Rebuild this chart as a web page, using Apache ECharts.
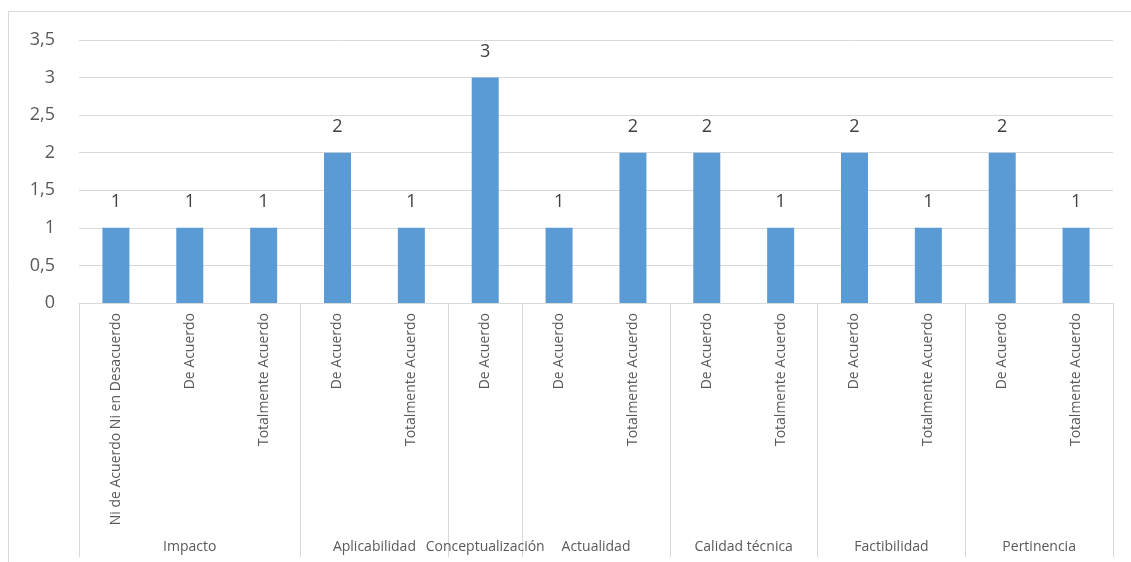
<!DOCTYPE html>
<html>
<head>
<meta charset="utf-8">
<script src="https://cdn.jsdelivr.net/npm/echarts@6/dist/echarts.min.js"></script>
<style>
html,body{margin:0;padding:0;background:#fff;}
#chart{width:1131px;height:562px;}
</style>
</head>
<body>
<div id="chart"></div>
<script>
var categories = ["Ni de Acuerdo Ni en Desacuerdo","De Acuerdo","Totalmente Acuerdo","De Acuerdo","Totalmente Acuerdo","De Acuerdo","De Acuerdo","Totalmente Acuerdo","De Acuerdo","Totalmente Acuerdo","De Acuerdo","Totalmente Acuerdo","De Acuerdo","Totalmente Acuerdo"];
var values = [1,1,1,2,1,3,1,2,2,1,2,1,2,1];
var groups = ["Impacto","Aplicabilidad","Conceptualización","Actualidad","Calidad técnica","Factibilidad","Pertinencia"];
var groupSizes = [3,2,1,2,2,2,2];
var yTicks = [0,0.5,1,1.5,2,2.5,3,3.5];

var boundaries = [0], centers = [], acc = 0;
groupSizes.forEach(function(s){ centers.push(acc + s/2); acc += s; boundaries.push(acc); });

var font = "'Open Sans', 'Liberation Sans', sans-serif";
var chart = echarts.init(document.getElementById('chart'));
chart.setOption({
  animation:false,
  backgroundColor:'#fff',
  graphic:[{type:'rect',shape:{x:8.5,y:11.5,width:1140,height:600},style:{fill:'none',stroke:'#d9d9d9',lineWidth:1},silent:true,z:-1}],
  grid:{left:79,right:18,top:40,bottom:259,containLabel:false},
  xAxis:[{
    type:'category',
    data:categories,
    axisLine:{show:true,lineStyle:{color:'#d9d9d9',width:1}},
    axisTick:{show:false},
    axisLabel:{rotate:90,interval:0,margin:10,fontSize:14,color:'#595959',fontFamily:font}
  },{
    type:'value',
    min:0,max:groupSizes.reduce(function(a,b){return a+b;},0),
    position:'bottom',
    axisLine:{show:false},
    splitLine:{show:false},
    axisTick:{show:true,customValues:boundaries,length:254,lineStyle:{color:'#d9d9d9',width:1}},
    axisLabel:{show:true,customValues:centers,margin:237,fontSize:14,color:'#595959',fontFamily:font,
      formatter:function(v){ var i=centers.indexOf(v); return i>=0?groups[i]:''; }}
  }],
  yAxis:{
    type:'value',min:0,max:3.5,interval:0.5,
    axisLine:{show:false},axisTick:{show:false},
    splitLine:{lineStyle:{color:'#d9d9d9',width:1}},
    axisLabel:{margin:24,fontSize:18,color:'#595959',fontFamily:font,
      formatter:function(v){ return String(v).replace('.',','); }}
  },
  series:[{
    type:'bar',
    xAxisIndex:0,
    data:values,
    barWidth:27,
    itemStyle:{color:'#5b9bd5'},
    label:{show:true,position:'top',distance:17,fontSize:18,color:'#404040',fontFamily:font}
  }]
});
</script>
</body>
</html>
